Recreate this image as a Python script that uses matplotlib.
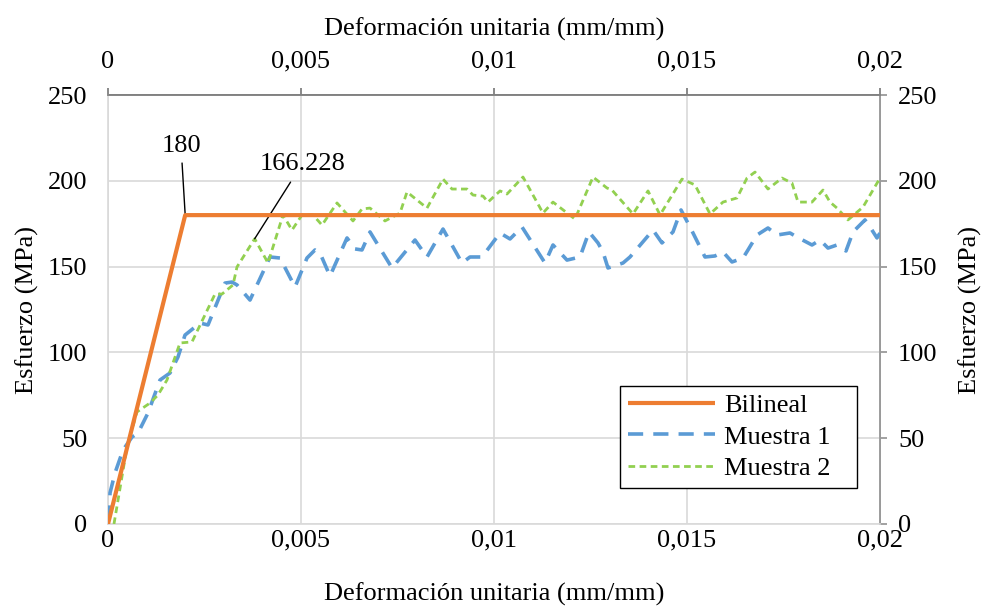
import matplotlib
matplotlib.use("Agg")
import matplotlib.pyplot as plt

plt.rcParams['font.family'] = ['Liberation Serif', 'DejaVu Serif']

# ---------------- data ----------------
bil_x = [0.0, 0.002, 0.02]
bil_y = [0.0, 180.0, 180.0]

m1_x = [0.00003, 0.000052, 0.000181, 0.000389, 0.000622, 0.000777, 0.001036, 0.001347,
        0.001606, 0.001813, 0.001995, 0.002383, 0.002591, 0.003031, 0.003212, 0.003342,
        0.003679, 0.004197, 0.004456, 0.004845, 0.005155, 0.005363, 0.005492, 0.005751,
        0.006192, 0.006399, 0.00658, 0.006788, 0.007358, 0.007953, 0.008264, 0.008679,
        0.009171, 0.009378, 0.009689, 0.010156, 0.010415, 0.010725, 0.011321, 0.011528,
        0.011891, 0.012228, 0.012461, 0.012694, 0.012824, 0.012953, 0.013342, 0.013523,
        0.014119, 0.014352, 0.014637, 0.014845, 0.015078, 0.015337, 0.015466, 0.015725,
        0.015933, 0.016166, 0.016451, 0.01658, 0.016813, 0.017098, 0.017332, 0.017668,
        0.01785, 0.018238, 0.018446, 0.018653, 0.018886, 0.019119, 0.019301, 0.019611,
        0.019741, 0.019922, 0.02]
m1_y = [2.0, 18.1, 29.7, 43.1, 50.7, 53.0, 64.7, 83.9,
        88.0, 97.3, 110.1, 117.1, 116.0, 140.4, 141.0, 139.3,
        130.5, 155.6, 155.0, 138.1, 155.0, 159.7, 157.9, 144.5,
        166.7, 160.3, 159.7, 170.2, 149.2, 165.5, 155.6, 171.9,
        152.1, 155.6, 155.6, 169.6, 166.1, 173.1, 152.1, 162.6,
        153.8, 155.6, 170.2, 163.8, 158.5, 149.2, 152.1, 155.6,
        171.3, 163.8, 170.2, 183.0, 173.1, 161.4, 155.6, 156.2,
        158.5, 152.7, 155.0, 159.7, 168.4, 172.5, 168.4, 169.6,
        167.2, 162.6, 165.5, 160.8, 162.6, 159.1, 170.2, 177.2,
        173.1, 166.7, 169.6]

m2_x = [0.000155, 0.000492, 0.000751, 0.001088, 0.001295, 0.001528, 0.001865, 0.002176,
        0.002772, 0.002953, 0.003238, 0.003342, 0.0038, 0.004145, 0.004534, 0.004767,
        0.005026, 0.005311, 0.005544, 0.005933, 0.006347, 0.00658, 0.006788, 0.007176,
        0.007565, 0.007746, 0.008264, 0.008679, 0.008912, 0.009301, 0.009456, 0.009715,
        0.009845, 0.010156, 0.010337, 0.010751, 0.011269, 0.011528, 0.012098, 0.012565,
        0.012927, 0.013057, 0.013601, 0.01399, 0.014301, 0.01487, 0.015207, 0.015596,
        0.015933, 0.016295, 0.016554, 0.016762, 0.017098, 0.017461, 0.01772, 0.017876,
        0.018238, 0.018523, 0.018705, 0.018886, 0.019171, 0.01956, 0.02]
m2_y = [0.0, 44.9, 65.3, 70.5, 75.2, 83.9, 105.5, 106.1,
        134.0, 134.0, 139.3, 149.8, 166.228, 152.1, 180.1, 171.3,
        180.1, 180.1, 174.2, 187.1, 176.6, 183.6, 184.1, 176.6,
        181.2, 193.5, 184.1, 201.0, 195.2, 195.2, 191.7, 191.1,
        187.6, 194.1, 192.3, 202.2, 181.2, 187.6, 177.7, 202.2,
        195.8, 194.6, 180.7, 194.1, 180.1, 201.0, 197.6, 180.7,
        187.6, 190.0, 201.6, 205.1, 195.2, 201.6, 198.7, 187.6,
        187.6, 194.6, 187.6, 184.1, 177.2, 184.7, 201.6]

x_ticks = [0.0, 0.005, 0.01, 0.015, 0.02]
x_tick_labels = ["0", "0,005", "0,01", "0,015", "0,02"]
y_ticks = [0, 50, 100, 150, 200, 250]

xlabel = "Deformación unitaria (mm/mm)"
ylabel = "Esfuerzo (MPa)"

# ---------------- figure ----------------
fig = plt.figure(figsize=(9.81, 6.08), dpi=100)
ax = fig.add_axes([108/981, 1-524/608, (880-108)/981, (524-95)/608])

c_orange = '#ED7D31'
c_blue = '#5B9BD5'
c_green = '#92D050'
grid_c = '#D9D9D9'

ax.plot(bil_x, bil_y, color=c_orange, lw=3.0, label='Bilineal', zorder=4,
        solid_capstyle='butt')
ax.plot(m1_x, m1_y, color=c_blue, lw=2.6, dashes=(4.2, 2.8), label='Muestra 1', zorder=3)
ax.plot(m2_x, m2_y, color=c_green, lw=2.0, dashes=(2.4, 1.6), label='Muestra 2', zorder=3)

ax.set_xlim(0, 0.02)
ax.set_ylim(0, 250)

fs = 19
ax.set_xticks(x_ticks)
ax.set_xticklabels(x_tick_labels)
ax.set_yticks(y_ticks)
ax.grid(True, color=grid_c, lw=1.2, zorder=0)
ax.set_axisbelow(True)
ax.tick_params(axis='x', length=0, labelsize=fs, pad=4)
ax.tick_params(axis='y', length=0, labelsize=fs, pad=15)
for s in ['left', 'bottom']:
    ax.spines[s].set_color(grid_c)
    ax.spines[s].set_linewidth(1.2)
ax.spines['top'].set_color('#808080')
ax.spines['top'].set_linewidth(1.3)
ax.spines['right'].set_color('#9A9A9A')
ax.spines['right'].set_linewidth(1.3)

ax.set_xlabel(xlabel, fontsize=fs, labelpad=22)
ax.set_ylabel(ylabel, fontsize=fs, labelpad=6)

top = ax.secondary_xaxis('top')
top.set_xticks(x_ticks)
top.set_xticklabels(x_tick_labels)
top.tick_params(length=5, width=1.3, color='#808080', labelsize=fs, pad=11, direction='out')
top.spines['top'].set_color('#808080')
top.spines['top'].set_linewidth(1.3)
top.set_xlabel(xlabel, fontsize=fs, labelpad=11)

right = ax.secondary_yaxis('right')
right.set_yticks(y_ticks)
right.tick_params(length=5, width=1.3, color='#9A9A9A', labelsize=fs, pad=8, direction='out')
right.spines['right'].set_color('#9A9A9A')
right.spines['right'].set_linewidth(1.3)
right.set_ylabel(ylabel, fontsize=fs, labelpad=15)

# annotations
ax.annotate("180", xy=(bil_x[1], bil_y[1]), xytext=(0.00191, 220),
            fontsize=fs, ha='center', va='center',
            arrowprops=dict(arrowstyle='-', color='black', lw=1.0,
                            shrinkA=2, shrinkB=0, relpos=(0.5, 0)))
ax.annotate("166.228", xy=(m2_x[12], m2_y[12]), xytext=(0.00503, 210),
            fontsize=fs, ha='center', va='center',
            arrowprops=dict(arrowstyle='-', color='black', lw=1.0,
                            shrinkA=4, shrinkB=0, relpos=(0.42, 0)))

leg = ax.legend(loc='lower left', bbox_to_anchor=((620-108)/772, (524-488)/429,
                                                  (857-620)/772, (488-381)/429),
                mode='expand', fontsize=fs, frameon=True, fancybox=False,
                edgecolor='black', framealpha=1, handlelength=3.3,
                borderaxespad=0, borderpad=0.3, labelspacing=0.3, handletextpad=0.35)
leg.get_frame().set_linewidth(1.0)
leg.set_zorder(10)

fig.savefig("out.png", dpi=100)
